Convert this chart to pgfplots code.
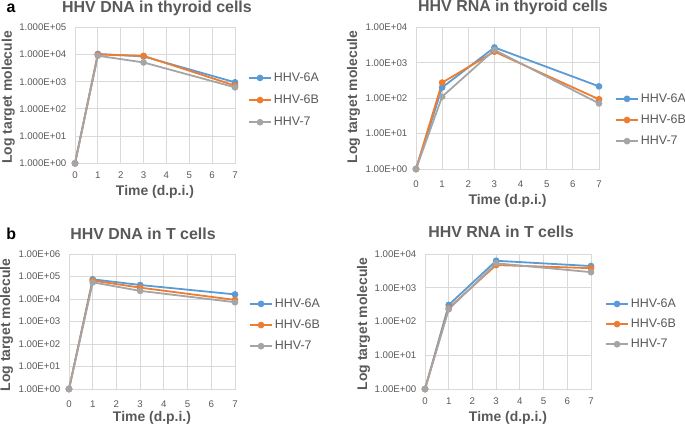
\documentclass[border=0pt]{standalone}
\usepackage{pgfplots}
\pgfplotsset{compat=1.18}
\usepackage{fontspec}
\setmainfont{Liberation Sans}
\definecolor{c6a}{HTML}{5B9BD5}
\definecolor{c6b}{HTML}{ED7D31}
\definecolor{c7}{HTML}{A5A5A5}
\definecolor{txt}{HTML}{595959}
\definecolor{gridc}{HTML}{D9D9D9}
\pgfplotsset{
    scale only axis,
    xmin=0, xmax=7,
    xtick={0,1,2,3,4,5,6,7},
    axis line style={draw=gridc, line width=0.8bp},
    grid=major,
    major grid style={draw=gridc, line width=0.8bp},
    major tick length=0pt,
    minor tick length=0pt,
    tick label style={font=\fontsize{9.7}{11}\selectfont, text=txt},
    /pgf/number format/assume math mode=true,
    xticklabel style={inner sep=0pt, anchor=north},
    yticklabel style={inner sep=0pt, anchor=east, xshift=-8.5bp},
    label style={font=\bfseries\fontsize{14}{16}\selectfont, text=txt},
    title style={font=\bfseries\fontsize{16}{18}\selectfont, text=txt, anchor=base, yshift=-6pt},
    legend style={draw=none, fill=none, font=\fontsize{12.5}{14}\selectfont, text=txt,
      anchor=west, inner sep=0pt, column sep=2bp, row sep=11bp, nodes={inner sep=0pt}},
    legend cell align=left,
    legend image code/.code={\draw[mark repeat=2,mark phase=2] plot coordinates {(0bp,0bp)(11bp,0bp)(22bp,0bp)};},
    every axis plot/.append style={line width=1.8bp, mark=*, mark size=2.4bp},
    clip=false,
    xlabel={Time (d.p.i.)},
    ylabel={Log target molecule},
}
\begin{document}
\begin{tikzpicture}
\useasboundingbox (0,0) rectangle (685bp,427bp);

% Panel a, DNA thyroid
\begin{axis}[ymode=log,
  at={(75bp,263.7bp)}, anchor=south west, width=160bp, height=136bp,
  ymin=1, ymax=100000,
  ytick={1,10,100,1000,10000,100000},
  yticklabels={1.000E+00,1.000E+01,1.000E+02,1.000E+03,1.000E+04,1.000E+05},
  xticklabel style={yshift=-8.5bp},
  title={HHV DNA in thyroid cells},
  title style={at={(axis description cs:0.5125,1.107)}},
  xlabel style={at={(axis description cs:0.5,-0.235)}, anchor=base},
  ylabel style={at={(axis description cs:-0.394,0.484)}, anchor=base},
  legend style={at={(1.081,0.465)}, row sep=12bp},
]
\addplot[color=c6a, mark options={fill=c6a, draw=c6a}] coordinates {(0,1) (1,10500) (3,8500) (7,950)};
\addplot[color=c6b, mark options={fill=c6b, draw=c6b}] coordinates {(0,1) (1,10000) (3,8900) (7,720)};
\addplot[color=c7, mark options={fill=c7, draw=c7}] coordinates {(0,1) (1,9000) (3,5100) (7,620)};
\legend{HHV-6A,HHV-6B,HHV-7}
\node[anchor=base west, font=\bfseries\fontsize{16}{18}\selectfont, text=black] at (axis description cs:-0.45,1.107) {a};
\end{axis}

% Panel a, RNA thyroid
\begin{axis}[ymode=log,
  at={(416bp,258bp)}, anchor=south west, width=183bp, height=141.7bp,
  ymin=1, ymax=10000,
  ytick={1,10,100,1000,10000},
  yticklabels={1.00E+00,1.00E+01,1.00E+02,1.00E+03,1.00E+04},
  xticklabel style={yshift=-11.5bp},
  title={HHV RNA in thyroid cells},
  title style={at={(axis description cs:0.530,1.108)}},
  xlabel style={at={(axis description cs:0.5,-0.254)}, anchor=base},
  ylabel style={at={(axis description cs:-0.322,0.508)}, anchor=base},
  legend style={at={(1.087,0.346)}, row sep=11bp},
]
\addplot[color=c6a, mark options={fill=c6a, draw=c6a}] coordinates {(0,1) (1,200) (3,2700) (7,215)};
\addplot[color=c6b, mark options={fill=c6b, draw=c6b}] coordinates {(0,1) (1,275) (3,2050) (7,93)};
\addplot[color=c7, mark options={fill=c7, draw=c7}] coordinates {(0,1) (1,110) (3,2300) (7,71)};
\legend{HHV-6A,HHV-6B,HHV-7}
\end{axis}

% Panel b, DNA T cells
\begin{axis}[ymode=log,
  at={(69bp,38bp)}, anchor=south west, width=166bp, height=135bp,
  ymin=1, ymax=1000000,
  ytick={1,10,100,1000,10000,100000,1000000},
  yticklabels={1.00E+00,1.00E+01,1.00E+02,1.00E+03,1.00E+04,1.00E+05,1.00E+06},
  xticklabel style={yshift=-11.5bp},
  title={HHV DNA in T cells},
  title style={at={(axis description cs:0.446,1.111)}},
  xlabel style={at={(axis description cs:0.5,-0.244)}, anchor=base},
  ylabel style={at={(axis description cs:-0.355,0.474)}, anchor=base},
  legend style={at={(1.084,0.474)}, row sep=11bp},
]
\addplot[color=c6a, mark options={fill=c6a, draw=c6a}] coordinates {(0,1) (1,75000) (3,42000) (7,16000)};
\addplot[color=c6b, mark options={fill=c6b, draw=c6b}] coordinates {(0,1) (1,66000) (3,32000) (7,9100)};
\addplot[color=c7, mark options={fill=c7, draw=c7}] coordinates {(0,1) (1,55000) (3,23000) (7,7200)};
\legend{HHV-6A,HHV-6B,HHV-7}
\node[anchor=base west, font=\bfseries\fontsize{16}{18}\selectfont, text=black] at (axis description cs:-0.398,1.111) {b};
\end{axis}

% Panel b, RNA T cells
\begin{axis}[ymode=log,
  at={(425bp,38bp)}, anchor=south west, width=166bp, height=135bp,
  ymin=1, ymax=10000,
  ytick={1,10,100,1000,10000},
  yticklabels={1.00E+00,1.00E+01,1.00E+02,1.00E+03,1.00E+04},
  xticklabel style={yshift=-8.5bp},
  title={HHV RNA in T cells},
  title style={at={(axis description cs:0.458,1.121)}},
  xlabel style={at={(axis description cs:0.5,-0.244)}, anchor=base},
  ylabel style={at={(axis description cs:-0.349,0.481)}, anchor=base},
  legend style={at={(1.084,0.481)}, row sep=10bp},
]
\addplot[color=c6a, mark options={fill=c6a, draw=c6a}] coordinates {(0,1) (1,310) (3,6300) (7,4400)};
\addplot[color=c6b, mark options={fill=c6b, draw=c6b}] coordinates {(0,1) (1,250) (3,4700) (7,3800)};
\addplot[color=c7, mark options={fill=c7, draw=c7}] coordinates {(0,1) (1,230) (3,5300) (7,2900)};
\legend{HHV-6A,HHV-6B,HHV-7}
\end{axis}
\end{tikzpicture}
\end{document}
